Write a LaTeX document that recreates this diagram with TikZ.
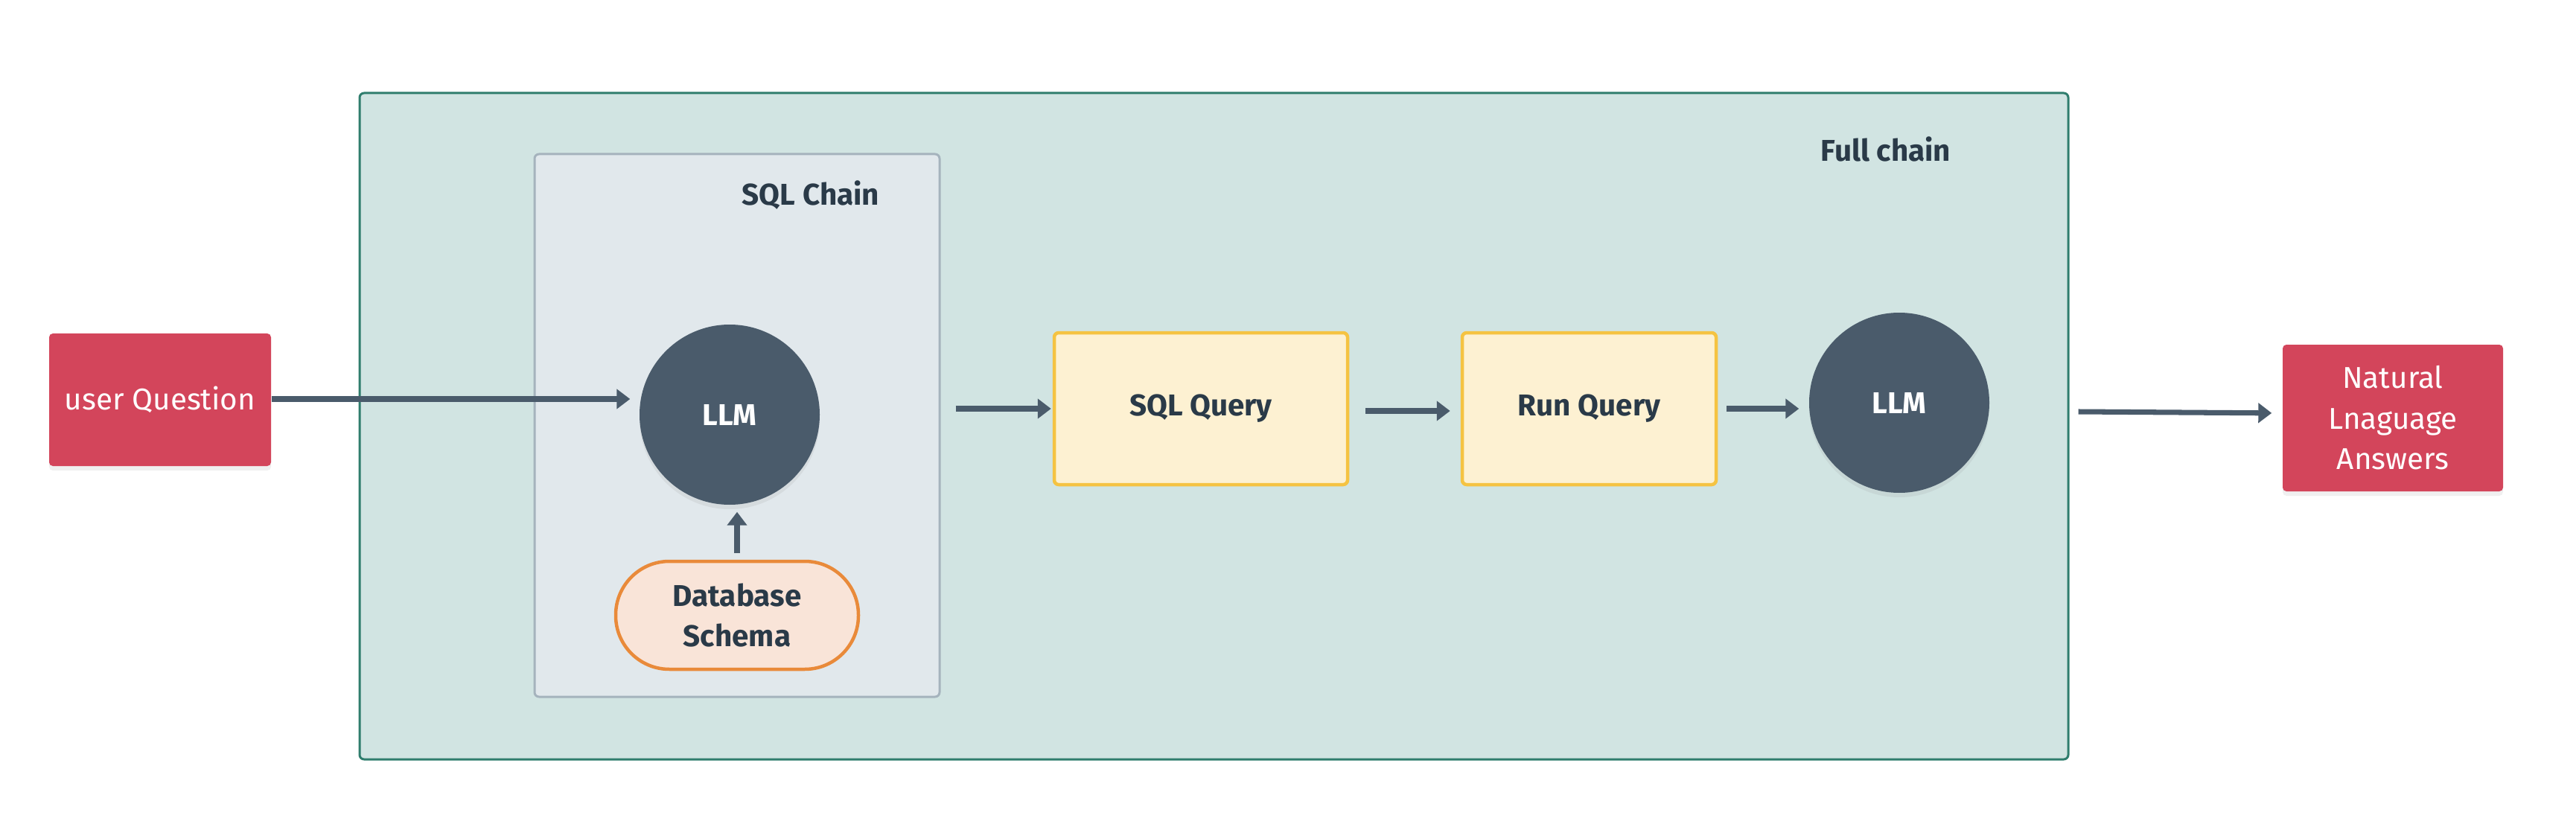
\documentclass[tikz,border=0pt]{standalone}
\usepackage{fontspec}
\setmainfont{Fira Sans}
\usetikzlibrary{arrows.meta,shadows}
\definecolor{fullfill}{HTML}{D1E4E2}
\definecolor{fullline}{HTML}{2F7D6D}
\definecolor{sqlfill}{HTML}{E1E8EC}
\definecolor{sqlline}{HTML}{A5B3BD}
\definecolor{redbox}{HTML}{D3455B}
\definecolor{slate}{HTML}{4A5B6B}
\definecolor{yelfill}{HTML}{FDF1D2}
\definecolor{yelline}{HTML}{F5C342}
\definecolor{orfill}{HTML}{F9E4D8}
\definecolor{orline}{HTML}{E98A3A}
\definecolor{ink}{HTML}{2A3A48}
\begin{document}
\begin{tikzpicture}[font=\fontsize{11.5}{15.5}\selectfont,
  chainbox/.style={rectangle, rounded corners=0.6mm, line width=0.3mm},
  soft/.style={drop shadow={shadow xshift=0mm, shadow yshift=-0.6mm, opacity=0.12}},
  io/.style={rectangle, rounded corners=0.5mm, fill=redbox, text=white, align=center, soft},
  llm/.style={circle, fill=slate, text=white, minimum size=2.42cm, soft, font=\fontsize{11.5}{15.5}\selectfont\bfseries},
  stepbox/.style={rectangle, rounded corners=0.6mm, draw=yelline, fill=yelfill, line width=0.45mm, text=ink, minimum height=2.04cm, font=\fontsize{11.5}{15.5}\selectfont\bfseries},
  flow/.style={draw=slate, line width=2pt, -{Triangle[length=1.8mm,width=2.6mm]}}]
\useasboundingbox (0,0) rectangle (34.6,11.22);
\node[chainbox, draw=fullline, fill=fullfill, minimum width=22.95cm, minimum height=8.95cm] (full) at (16.305,5.495) {};
\node[chainbox, draw=sqlline, fill=sqlfill, minimum width=5.44cm, minimum height=7.29cm] (sqlchain) at (9.90,5.505) {};
\node[text=ink, font=\fontsize{11.5}{15.5}\selectfont\bfseries] (fulllabel) at (25.33,9.22) {Full chain};
\node[text=ink, font=\fontsize{11.5}{15.5}\selectfont\bfseries] (sqllabel) at (10.89,8.60) {SQL Chain};
\node[io, minimum width=2.98cm, minimum height=1.78cm] (question) at (2.15,5.85) {user Question};
\node[llm] (llma) at (9.80,5.65) {LLM};
\node[rectangle, rounded corners=0.72cm, draw=orline, fill=orfill, line width=0.45mm, minimum width=3.26cm, minimum height=1.45cm, text=ink, align=center, font=\fontsize{11.5}{15.5}\selectfont\bfseries] (schema) at (9.90,2.955) {Database\\Schema};
\node[stepbox, minimum width=3.94cm] (sqlquery) at (16.13,5.73) {SQL Query};
\node[stepbox, minimum width=3.41cm] (runquery) at (21.345,5.73) {Run Query};
\node[llm] (llmb) at (25.51,5.81) {LLM};
\node[io, minimum width=2.96cm, minimum height=1.97cm] (answers) at (32.14,5.605) {Natural\\Lnaguage\\Answers};
\draw[flow, shorten >=1.2mm] (question.east |- 0,5.86) -- (llma.west |- 0,5.86);
\draw[flow, shorten >=0.9mm, shorten <=0.9mm] (schema.north) -- (schema.north |- llma.south);
\draw[flow, shorten >=0.2mm] ([xshift=2mm]sqlchain.east |- sqlquery.west) -- (sqlquery.west);
\draw[flow, shorten <=2.2mm, shorten >=1.4mm] (sqlquery.east |- 0,5.70) -- (runquery.west |- 0,5.70);
\draw[flow, shorten <=1.2mm, shorten >=1.3mm] (runquery.east |- 0,5.73) -- (llmb.west |- 0,5.73);
\draw[flow, shorten >=1.4mm] ([xshift=1.2mm]full.east |- 0,5.69) -- (answers.west |- 0,5.67);
\end{tikzpicture}
\end{document}
